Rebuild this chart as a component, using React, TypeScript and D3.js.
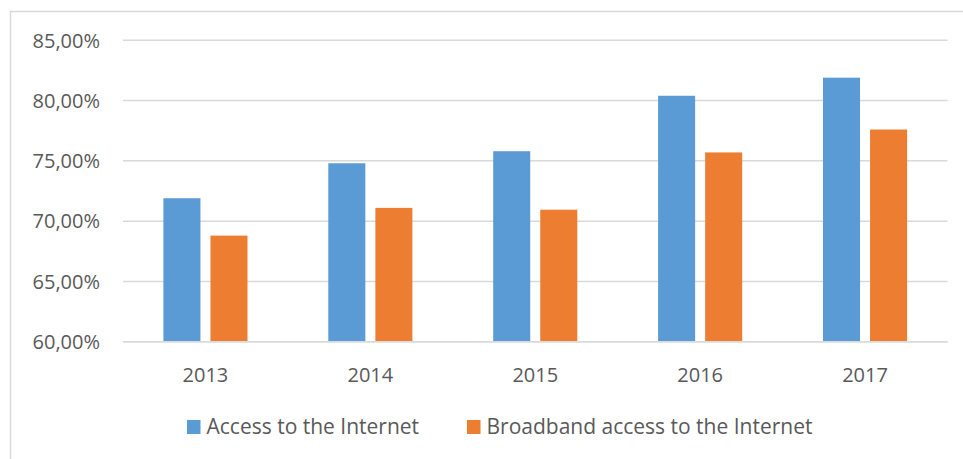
import React from "react";
import * as d3 from "d3";

const years = ["2013", "2014", "2015", "2016", "2017"];
const seriesNames = ["Access to the Internet", "Broadband access to the Internet"];
const accessValues = [71.9, 74.8, 75.8, 80.4, 81.9];
const broadbandValues = [68.8, 71.1, 70.95, 75.7, 77.6];
const yTicks = [60, 65, 70, 75, 80, 85];
const colors = ["#5B9BD5", "#ED7D31"];

const W = 963;
const H = 459;
const plotLeft = 123;
const plotRight = 947.5;
const plotTop = 40.3;
const plotBottom = 341.7;

export default function App() {
  const x0 = d3.scaleBand<string>().domain(years).range([plotLeft, plotRight]).paddingInner(0.49).paddingOuter(0.245);
  const x1 = d3.scaleBand<number>().domain([0, 1]).range([0, x0.bandwidth()]).paddingInner(0.213).paddingOuter(0);
  const y = d3.scaleLinear().domain([60, 85]).range([plotBottom, plotTop]);
  const series = [accessValues, broadbandValues];
  const fmt = (v: number) => v.toFixed(2).replace(".", ",") + "%";
  const font = "'Open Sans', sans-serif";
  const textColor = "#595959";

  return (
    <svg width={W} height={H} style={{ position: "absolute", left: 0, top: 0 }} xmlns="http://www.w3.org/2000/svg">
      <rect x={0} y={0} width={W} height={H} fill="#ffffff" />
      <rect x={10.5} y={11.5} width={W + 20} height={H + 20} fill="none" stroke="#d9d9d9" strokeWidth={1.5} />
      {yTicks.map((t) => (
        <g key={t}>
          <line x1={plotLeft} x2={plotRight} y1={y(t)} y2={y(t)} stroke="#d9d9d9" strokeWidth={1.5} />
          <text x={100} y={y(t)} dy="0.36em" textAnchor="end" fontFamily={font} fontSize={20} fill={textColor}>
            {fmt(t)}
          </text>
        </g>
      ))}
      {years.map((yr, i) => (
        <g key={yr} transform={`translate(${x0(yr)},0)`}>
          {series.map((s, si) => (
            <rect
              key={si}
              x={x1(si)}
              y={y(s[i])}
              width={x1.bandwidth()}
              height={plotBottom - y(s[i])}
              fill={colors[si]}
            />
          ))}
        </g>
      ))}
      <line x1={plotLeft} x2={plotRight} y1={plotBottom} y2={plotBottom} stroke="#d9d9d9" strokeWidth={1.5} />
      {years.map((yr) => (
        <text
          key={yr}
          x={(x0(yr) as number) + x0.bandwidth() / 2}
          y={375}
          dy="0.36em"
          textAnchor="middle"
          fontFamily={font}
          fontSize={20}
          fill={textColor}
        >
          {yr}
        </text>
      ))}
      {seriesNames.map((name, i) => {
        const lx = i === 0 ? 187 : 467;
        return (
          <g key={name}>
            <rect x={lx} y={420} width={13.5} height={14} fill={colors[i]} />
            <text x={lx + 19.5} y={434} fontFamily={font} fontSize={21} fill={textColor}>
              {name}
            </text>
          </g>
        );
      })}
    </svg>
  );
}
